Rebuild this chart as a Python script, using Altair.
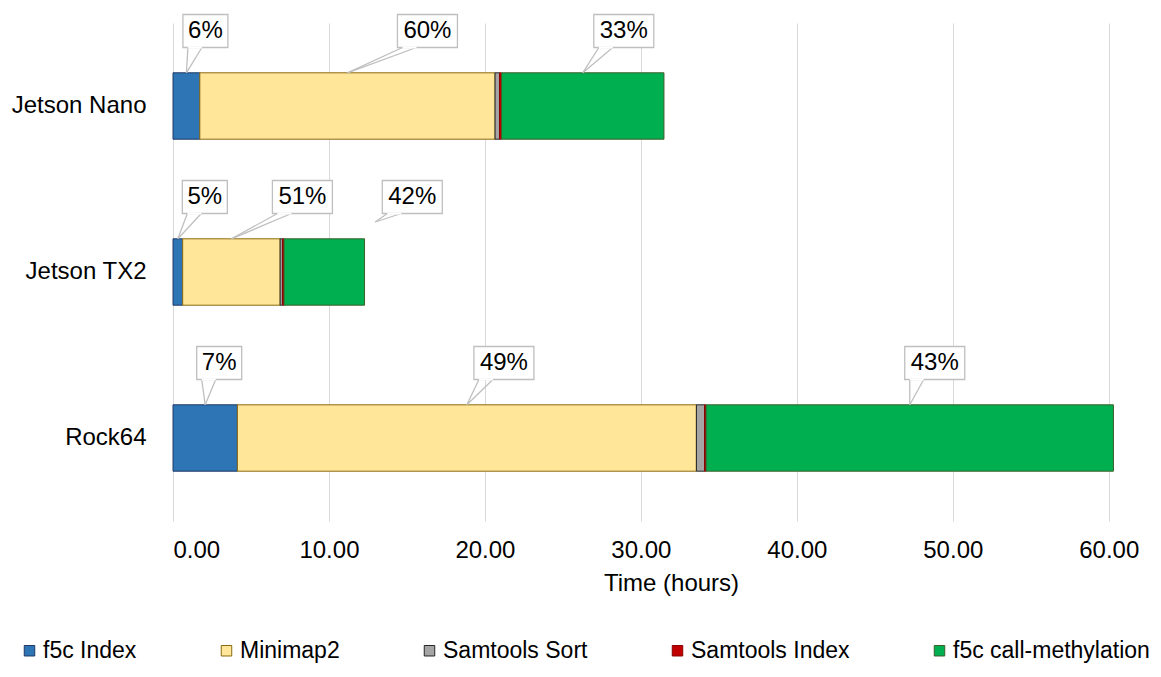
import altair as alt
import pandas as pd

# ---------------- data ----------------
devices = ["Jetson Nano", "Jetson TX2", "Rock64"]
stages = ["f5c Index", "Minimap2", "Samtools Sort", "Samtools Index", "f5c call-methylation"]
f5c_index = [1.72, 0.62, 4.13]
minimap2 = [18.93, 6.25, 29.43]
samtools_sort = [0.29, 0.15, 0.52]
samtools_index = [0.13, 0.10, 0.10]
f5c_methylation = [10.41, 5.16, 26.12]

callout_stages = ["f5c Index", "Minimap2", "f5c call-methylation"]
pct_labels = [["6%", "60%", "33%"], ["5%", "51%", "42%"], ["7%", "49%", "43%"]]

x_ticks = [0, 10, 20, 30, 40, 50, 60]

# ---------------- styling / layout ----------------
fill_colors = ["#2e75b6", "#ffe699", "#a5a5a5", "#c00000", "#00b050"]
stroke_colors = ["#1f3864", "#8a6a10", "#262626", "#8b0000", "#3d5f2c"]
FONT = "Liberation Sans"
FS = 24
W, H = 942, 498
XMAX = 60.4
PPU = W / XMAX
# label offsets from the labelled segment's midpoint (pixels)
callout_dx = [[19, 80, 41], [27, 71, 88], [14, 37, 25]]
tip_dx = [[0, 0, 0], [0, 0, 51], [0, 0, 0]]
tip_dy = [[-33.2, -33.2, -33.2], [-33.2, -33.2, -50], [-33.2, -33.2, -33.2]]
LABEL_DY = -75
BOX_H = 33

series = [f5c_index, minimap2, samtools_sort, samtools_index, f5c_methylation]
rows = []
for si, st in enumerate(stages):
    for di, dv in enumerate(devices):
        rows.append({"device": dv, "stage": st, "order": si, "hours": series[si][di]})
bars = pd.DataFrame(rows)

crow = []
for di, dv in enumerate(devices):
    cum = 0.0
    bounds = {}
    for si, st in enumerate(stages):
        v = series[si][di]
        bounds[st] = (cum, cum + v)
        cum += v
    for ci, st in enumerate(callout_stages):
        s, e = bounds[st]
        mid = (s + e) / 2
        lab = pct_labels[di][ci]
        lx = mid + callout_dx[di][ci] / PPU
        half = (15 * len(lab) + 15) / 2 / PPU
        bl = lx - half
        crow.append({
            "device": dv, "pct": lab, "label_x": lx,
            "box_l": bl, "box_r": lx + half,
            "tip_x": mid + tip_dx[di][ci] / PPU,
            "tip_dy": tip_dy[di][ci],
            "base1": bl + 5 / PPU, "base2": bl + 19 / PPU,
        })
callouts = pd.DataFrame(crow)

yscale = alt.Scale(domain=devices, paddingInner=0.6, paddingOuter=0.3)
xscale = alt.Scale(domain=[0, XMAX], nice=False, zero=True)

x_axis = alt.Axis(values=x_ticks, format=".2f", grid=True, gridColor="#d9d9d9",
                  domain=False, ticks=False, labelFontSize=FS, labelColor="#000000",
                  labelPadding=17, title="Time (hours)", titleFontSize=FS,
                  titleFontWeight="normal", titleColor="#000000", titlePadding=9,
                  titleX=498)
y_axis = alt.Axis(title=None, domain=False, ticks=False, grid=False,
                  labelFontSize=FS, labelColor="#000000", labelPadding=27)

legend = alt.Legend(
    orient="none", legendX=-155, legendY=616, direction="horizontal", columns=5,
    columnPadding=78, symbolType="square", symbolSize=110, symbolStrokeWidth=1,
    labelFontSize=23, labelOffset=2, labelColor="#000000", title=None, padding=0,
    labelLimit=400,
)


def xenc(field):
    return alt.X(field, scale=xscale, axis=x_axis, title="Time (hours)")


yenc = alt.Y("device:N", sort=devices, scale=yscale, axis=y_axis, title=None)

bar_layer = alt.Chart(bars).mark_bar(strokeWidth=1).encode(
    x=alt.X("sum(hours):Q", scale=xscale, stack="zero", axis=x_axis, title="Time (hours)"),
    y=yenc,
    fill=alt.Fill("stage:N", scale=alt.Scale(domain=stages, range=fill_colors), legend=legend),
    stroke=alt.Stroke("stage:N", scale=alt.Scale(domain=stages, range=stroke_colors), legend=legend),
    order=alt.Order("order:Q", sort="ascending"),
)

box_layer = alt.Chart(callouts).mark_bar(
    size=BOX_H, yOffset=LABEL_DY, fill="white", stroke="#bfbfbf", strokeWidth=1.3
).encode(
    x=xenc("box_l:Q"),
    x2="box_r:Q",
    y=yenc,
)

wedge_layers = []
for dyv in sorted(callouts["tip_dy"].unique()):
    sub = callouts[callouts["tip_dy"] == dyv]
    for bcol in ["base1", "base2"]:
        wedge_layers.append(
            alt.Chart(sub).mark_rule(
                yOffset=float(dyv), y2Offset=LABEL_DY + BOX_H / 2, color="#bfbfbf", strokeWidth=1.3
            ).encode(
                x=xenc("tip_x:Q"),
                x2=alt.X2(bcol + ":Q"),
                y=yenc,
                y2=alt.Y2("device:N"),
            )
        )

cover_layer = alt.Chart(callouts).mark_rule(
    yOffset=LABEL_DY + BOX_H / 2, y2Offset=LABEL_DY + BOX_H / 2, color="white", strokeWidth=2
).encode(
    x=xenc("base1:Q"),
    x2="base2:Q",
    y=yenc,
    y2=alt.Y2("device:N"),
)

text_layer = alt.Chart(callouts).mark_text(
    dy=LABEL_DY, fontSize=FS, baseline="middle", align="center", color="#000000"
).encode(
    x=xenc("label_x:Q"),
    y=yenc,
    text="pct:N",
)

chart = alt.layer(bar_layer, box_layer, *wedge_layers, cover_layer, text_layer).properties(
    width=W, height=H,
    padding={"left": 165, "top": 15, "right": 37, "bottom": 143},
    autosize=alt.AutoSizeParams(type="none"),
).configure(font=FONT).configure_view(stroke=None)

chart.save("out.html", embed_options={"renderer": "svg", "actions": False})
